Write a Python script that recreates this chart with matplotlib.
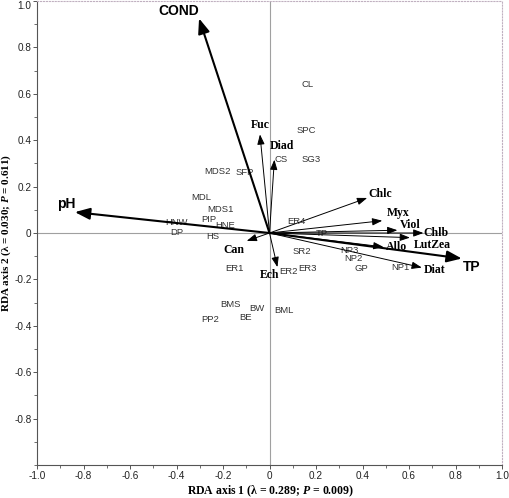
import numpy as np
import matplotlib.pyplot as plt
from matplotlib.ticker import MultipleLocator, FixedLocator

plt.rcParams['font.family'] = ['Liberation Sans', 'DejaVu Sans']
plt.rcParams['axes.unicode_minus'] = False
plt.rcParams['mathtext.fontset'] = 'custom'
plt.rcParams['mathtext.rm'] = 'Liberation Serif:bold'
plt.rcParams['mathtext.it'] = 'Liberation Serif:bold:italic'

# environmental variables (biplot arrows)
env_names = ['COND', 'pH', 'TP']
env_x = [-0.303, -0.837, 0.827]
env_y = [0.925, 0.090, -0.110]

# pigments (thin arrows)
pig_names = ['Fuc', 'Diad', 'Chlc', 'Myx', 'Viol', 'Chlb', 'LutZea', 'Allo', 'Diat', 'Can', 'Ech']
pig_x = [-0.041, 0.021, 0.420, 0.485, 0.550, 0.662, 0.604, 0.490, 0.655, -0.098, 0.034]
pig_y = [0.425, 0.316, 0.151, 0.053, 0.012, 0.000, -0.020, -0.060, -0.149, -0.034, -0.147]

# sites
site_names = ['CL', 'SPC', 'SG3', 'CS', 'MDS2', 'SFP', 'MDL', 'MDS1', 'PIP', 'HNE', 'HS',
              'HNW', 'DP', 'ER4', 'TP', 'SR2', 'ER1', 'ER2', 'ER3', 'NP3', 'NP2', 'GP', 'NP1',
              'BMS', 'BW', 'BML', 'PP2', 'BE']
site_x = [0.164, 0.160, 0.181, 0.052, -0.224, -0.105, -0.292, -0.213, -0.263, -0.191, -0.242,
          -0.400, -0.400, 0.117, 0.224, 0.140, -0.151, 0.081, 0.163, 0.343, 0.360, 0.397, 0.561,
          -0.167, -0.055, 0.060, -0.256, -0.102]
site_y = [0.640, 0.443, 0.318, 0.318, 0.267, 0.262, 0.153, 0.101, 0.058, 0.034, -0.014,
          0.045, 0.000, 0.050, -0.003, -0.079, -0.151, -0.166, -0.155, -0.075, -0.110, -0.151, -0.149,
          -0.310, -0.326, -0.333, -0.372, -0.366]

# label offsets from arrow tips, in pixels
env_off = {'COND': (-20, 7), 'pH': (-9, 8), 'TP': (10, -8)}
pig_off = {'Fuc': (0, 9), 'Diad': (8, 14), 'Chlc': (13, 4), 'Myx': (16, 8), 'Viol': (13, 5),
           'Chlb': (13, 0), 'LutZea': (22, -7), 'Allo': (13, 0), 'Diat': (13, -2),
           'Can': (-13, -9), 'Ech': (-8, -8)}

fig = plt.figure(figsize=(5.1, 4.98), dpi=100)
ax = fig.add_axes([37/510, 1-465/498, 465/510, 464/498])
ax.set_xlim(-1, 1)
ax.set_ylim(-1, 1)

# zero lines
ax.axhline(0, color='#a0a0a0', lw=0.8, zorder=1)
ax.axvline(0, color='#a0a0a0', lw=0.8, zorder=1)

for s in ['top', 'right']:
    ax.spines[s].set_color('#c0b0c0')
    ax.spines[s].set_linestyle(':')
    ax.spines[s].set_linewidth(0.8)
for s in ['left', 'bottom']:
    ax.spines[s].set_color('#555555')
    ax.spines[s].set_linewidth(0.8)

ax.xaxis.set_major_locator(MultipleLocator(0.2))
ax.xaxis.set_minor_locator(MultipleLocator(0.1))
ax.yaxis.set_major_locator(FixedLocator(np.round(np.arange(-0.8, 1.01, 0.2), 1)))
ax.yaxis.set_minor_locator(MultipleLocator(0.1))
fmt = lambda v, p: '0' if abs(v) < 1e-9 else f'{v:.1f}'
ax.xaxis.set_major_formatter(fmt)
ax.yaxis.set_major_formatter(fmt)
ax.tick_params(which='major', direction='out', length=3, width=0.7, color='#555555',
               labelsize=7.2, pad=1, labelcolor='#222222')
ax.tick_params(which='minor', direction='out', length=2, width=0.6, color='#555555')

for n, x, y in zip(site_names, site_x, site_y):
    ax.text(x, y, n, fontsize=6.8, color='#333333', ha='center', va='center', zorder=3)

for n, x, y in zip(pig_names, pig_x, pig_y):
    ax.annotate('', xy=(x, y), xytext=(0, 0),
                arrowprops=dict(arrowstyle='-|>,head_length=0.6,head_width=0.22',
                                color='black', lw=0.7, shrinkA=0, shrinkB=0), zorder=4)
    ax.annotate(n, xy=(x, y), xytext=pig_off[n], textcoords='offset pixels',
                ha='center', va='center', fontsize=8.5, fontweight='bold',
                family='Liberation Serif', zorder=5)

for n, x, y in zip(env_names, env_x, env_y):
    ax.annotate('', xy=(x, y), xytext=(0, 0),
                arrowprops=dict(arrowstyle='-|>,head_length=0.9,head_width=0.35',
                                color='black', lw=1.5, shrinkA=0, shrinkB=0), zorder=4)
    ax.annotate(n, xy=(x, y), xytext=env_off[n], textcoords='offset pixels',
                ha='center', va='center', fontsize=10, fontweight='bold', zorder=5)

# axis titles placed in figure coordinates
fig.text(270/510, 1-491/498, r'RDA axis 1 (λ = 0.289; $\it{P}$ = 0.009)',
         family='Liberation Serif', fontweight='bold', fontsize=8.5,
         ha='center', va='center')
fig.text(6.5/510, 1-233/498, r'RDA axis 2 (λ = 0.030; $\it{P}$ = 0.611)',
         family='Liberation Serif', fontweight='bold', fontsize=8,
         ha='center', va='center', rotation=90)

fig.canvas.draw()
ax.yaxis.get_major_ticks()[-1].label1.set_verticalalignment('top')

plt.savefig('out.png', dpi=100)
plt.close(fig)
